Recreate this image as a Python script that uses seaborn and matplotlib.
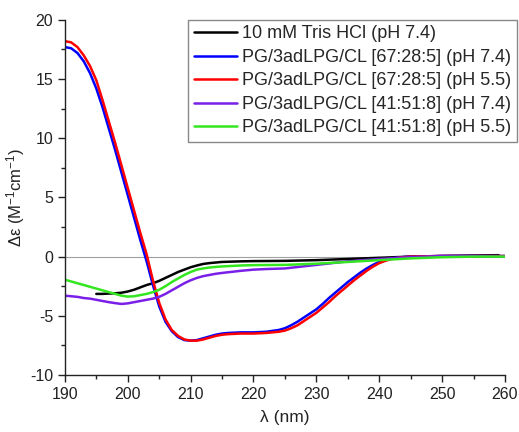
import numpy as np
import pandas as pd
import seaborn as sns
import matplotlib.pyplot as plt
from matplotlib.ticker import MultipleLocator

# ==========================
# DATA
# ==========================

wl_full = [190, 191, 192, 193, 194, 195, 196, 197, 198, 199, 200, 201, 202, 203, 204, 205,
           206, 207, 208, 209, 210, 211, 212, 213, 214, 215, 216, 218, 220, 222, 224, 225,
           226, 227, 228, 229, 230, 231, 232, 233, 234, 235, 236, 237, 238, 239, 240, 241,
           242, 243, 244, 245, 250, 255, 260]

red_555 = [18.2, 18.1, 17.7, 17.0, 16.1, 14.9, 13.2, 11.4, 9.6, 7.7, 5.8, 3.9, 2.0, 0.2, -2.0, -3.9,
           -5.3, -6.2, -6.7, -7.0, -7.1, -7.1, -7.0, -6.85, -6.7, -6.6, -6.55, -6.5, -6.5, -6.45, -6.35, -6.25,
           -6.05, -5.8, -5.45, -5.1, -4.75, -4.3, -3.85, -3.35, -2.9, -2.45, -2.0, -1.6, -1.2, -0.85, -0.55, -0.35,
           -0.2, -0.1, -0.05, 0.0, 0.05, 0.05, 0.05]

blue_555 = [17.7, 17.6, 17.2, 16.5, 15.5, 14.2, 12.6, 10.8, 9.0, 7.1, 5.2, 3.3, 1.4, -0.4, -2.4, -4.2,
            -5.5, -6.3, -6.8, -7.05, -7.1, -7.05, -6.9, -6.75, -6.6, -6.5, -6.45, -6.4, -6.4, -6.35, -6.2, -6.05,
            -5.8, -5.5, -5.15, -4.8, -4.45, -4.0, -3.5, -3.05, -2.6, -2.15, -1.75, -1.35, -1.0, -0.7, -0.45, -0.3,
            -0.15, -0.08, -0.03, 0.0, 0.05, 0.05, 0.05]

wl_small = [190, 191, 192, 193, 194, 195, 196, 197, 198, 199, 200, 201, 202, 203, 204, 205,
            206, 207, 208, 209, 210, 211, 212, 213, 214, 215, 218, 220, 222, 225, 230, 235,
            240, 245, 250, 255, 260]

green_418 = [-1.95, -2.1, -2.25, -2.4, -2.55, -2.7, -2.85, -3.0, -3.15, -3.3, -3.38, -3.35, -3.25, -3.15, -3.0, -2.8,
             -2.5, -2.15, -1.85, -1.55, -1.3, -1.1, -1.0, -0.92, -0.87, -0.83, -0.75, -0.72, -0.71, -0.7, -0.6, -0.45,
             -0.3, -0.15, -0.05, 0.0, 0.0]

purple_418 = [-3.3, -3.35, -3.4, -3.5, -3.55, -3.65, -3.75, -3.85, -3.93, -4.0, -3.95, -3.85, -3.75, -3.65, -3.55, -3.4,
              -3.15, -2.85, -2.55, -2.25, -2.0, -1.8, -1.65, -1.55, -1.45, -1.38, -1.2, -1.1, -1.05, -1.0, -0.7, -0.4,
              -0.2, -0.05, 0.05, 0.05, 0.0]

wl_tris = [195, 196, 197, 198, 199, 200, 201, 202, 203, 204, 205, 206, 207, 208, 209, 210,
           211, 212, 213, 214, 215, 218, 220, 225, 230, 235, 240, 245, 250, 255, 259]

tris = [-3.15, -3.15, -3.12, -3.1, -3.05, -2.95, -2.8, -2.6, -2.4, -2.25, -2.05, -1.8, -1.55, -1.3, -1.1, -0.9,
        -0.75, -0.62, -0.55, -0.5, -0.45, -0.4, -0.38, -0.36, -0.3, -0.2, -0.1, 0.0, 0.05, 0.1, 0.12]

labels = ["10 mM Tris HCl (pH 7.4)",
          "PG/3adLPG/CL [67:28:5] (pH 7.4)",
          "PG/3adLPG/CL [67:28:5] (pH 5.5)",
          "PG/3adLPG/CL [41:51:8] (pH 7.4)",
          "PG/3adLPG/CL [41:51:8] (pH 5.5)"]
colors = ["#000000", "#0000ff", "#ff0000", "#7a1fe8", "#33e61f"]

# ==========================
# LONG TABLE
# ==========================

series = [(wl_tris, tris), (wl_full, blue_555), (wl_full, red_555),
          (wl_small, purple_418), (wl_small, green_418)]
frames = []
for lab, (x, y) in zip(labels, series):
    frames.append(pd.DataFrame({"wl": x, "de": y, "sample": lab}))
df = pd.concat(frames, ignore_index=True)

# ==========================
# PLOT
# ==========================

sns.set_style("ticks")
plt.rcParams["font.family"] = ["Liberation Sans", "DejaVu Sans"]
plt.rcParams["mathtext.default"] = "regular"
plt.rcParams["axes.unicode_minus"] = False

fig = plt.figure(figsize=(5.19, 4.32), dpi=100)
ax = fig.add_axes([0.125, 0.132, 0.848, 0.822])

ax.axhline(0, color="#a0a0a0", lw=0.8, zorder=1)

sns.lineplot(data=df, x="wl", y="de", hue="sample", hue_order=labels,
             palette=colors, lw=1.8, sort=True, estimator=None, ax=ax)

ax.set_xlim(190, 260)
ax.set_ylim(-10, 20)
ax.xaxis.set_major_locator(MultipleLocator(10))
ax.xaxis.set_minor_locator(MultipleLocator(5))
ax.yaxis.set_major_locator(MultipleLocator(5))
ax.yaxis.set_minor_locator(MultipleLocator(2.5))
ax.tick_params(which="major", direction="out", length=5, width=1, labelsize=11.5, colors="#222222")
ax.tick_params(which="minor", direction="out", length=3, width=1, colors="#222222")
for s in ["left", "bottom"]:
    ax.spines[s].set_linewidth(1)
    ax.spines[s].set_color("#222222")
sns.despine(ax=ax)

ax.set_xlabel("λ (nm)", fontsize=12.5, color="#222222", labelpad=6)
ax.set_ylabel("Δε (M$^{-1}$cm$^{-1}$)", fontsize=12, color="#222222", labelpad=2)

handles, _ = ax.get_legend_handles_labels()
ax.legend(handles, labels, loc="upper right", bbox_to_anchor=(517 / 519, 1 - 20 / 432),
          bbox_transform=fig.transFigure, borderaxespad=0, fontsize=13,
          frameon=True, fancybox=False, edgecolor="#888888", framealpha=1,
          handlelength=2.4, handletextpad=0.3, labelspacing=0.36, borderpad=0.3)

fig.savefig("out.png", dpi=100)
